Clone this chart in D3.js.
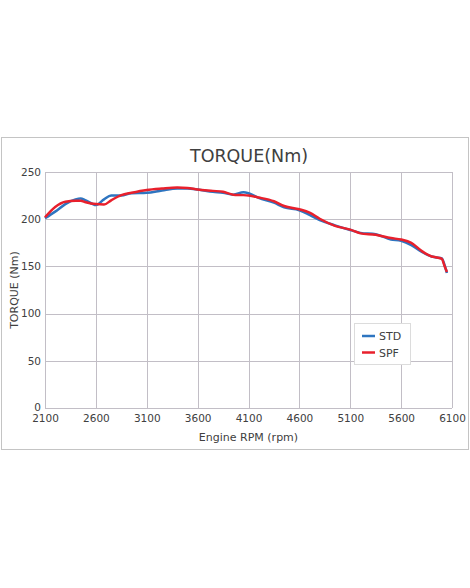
<!DOCTYPE html>
<html>
<head>
<meta charset="utf-8">
<script src="https://cdn.jsdelivr.net/npm/d3@7"></script>
<style>
  body { margin: 0; background: #fff; }
  text { font-family: "DejaVu Sans", Verdana, sans-serif; fill: #404040; }
</style>
</head>
<body>
<div id="chart"></div>
<script>
// engine speed samples (rpm)
var rpm = [2100, 2200, 2300, 2400, 2450, 2500, 2600, 2680, 2750, 2850, 2950, 3100, 3250, 3400, 3500,
  3600, 3750, 3850, 3950, 4050, 4100, 4200, 4350, 4450, 4600, 4700, 4800, 4950, 5100, 5200,
  5350, 5500, 5600, 5700, 5800, 5900, 5950, 6000, 6025, 6050];

// torque (Nm)
var std = [201, 208, 216, 221, 222, 220, 215, 221, 225, 225, 227.5, 228, 230.5, 232.5, 232.5,
  231.5, 229, 228, 226, 228.5, 227.5, 222.5, 217.5, 212.5, 209.5, 204.5, 199, 193.5, 188.5, 185.5,
  184, 178.5, 177, 172.5, 165.5, 160.5, 159.5, 158.5, 152, 143];
var spf = [202, 213, 218.5, 219.5, 219.5, 218, 216, 215.5, 220, 225.5, 228, 231, 232.5, 233.5, 233,
  231.5, 230, 229, 226, 225.5, 225, 223, 219, 214, 210.5, 207, 200.5, 193, 189, 185,
  183.5, 180, 178.5, 175, 166.5, 160.5, 159.5, 158, 151, 144];

var xTicks = [2100, 2600, 3100, 3600, 4100, 4600, 5100, 5600, 6100];
var yTicks = [0, 50, 100, 150, 200, 250];

var seriesNames = ['STD', 'SPF'];
var seriesColors = ['#2e75c0', '#e8202c'];

var svgWidth = 470;
var svgHeight = 588;
var margin = { top: 172, right: 18, bottom: 180, left: 45 };
var chartWidth = svgWidth - margin.left - margin.right;
var chartHeight = svgHeight - margin.top - margin.bottom;

var svg = d3.select('#chart')
  .append('svg')
  .attr('width', svgWidth)
  .attr('height', svgHeight);

// outer frame
svg.append('rect')
  .attr('x', 1.5).attr('y', 137.5)
  .attr('width', 467).attr('height', 312)
  .attr('fill', 'none')
  .attr('stroke', '#c4c4c4');

var chartGroup = svg.append('g')
  .attr('transform', `translate(${margin.left}, ${margin.top})`);

var x = d3.scaleLinear().domain([2100, 6100]).range([0, chartWidth]);
var y = d3.scaleLinear().domain([0, 250]).range([chartHeight, 0]);

// grid
chartGroup.append('g')
  .selectAll('line')
  .data(xTicks)
  .enter()
  .append('line')
  .attr('x1', d => Math.round(x(d)) + 0.5)
  .attr('x2', d => Math.round(x(d)) + 0.5)
  .attr('y1', 0)
  .attr('y2', chartHeight)
  .attr('stroke', '#c2bec6');

chartGroup.append('g')
  .selectAll('line')
  .data(yTicks)
  .enter()
  .append('line')
  .attr('x1', 0)
  .attr('x2', chartWidth)
  .attr('y1', d => Math.round(y(d)) + 0.5)
  .attr('y2', d => Math.round(y(d)) + 0.5)
  .attr('stroke', '#c2bec6');

// axes (labels only)
var bottomAxis = d3.axisBottom(x).tickValues(xTicks).tickSize(0).tickPadding(7).tickFormat(d3.format('d'));
var leftAxis = d3.axisLeft(y).tickValues(yTicks).tickSize(0).tickPadding(4);

var xAxisG = chartGroup.append('g')
  .attr('transform', `translate(0, ${chartHeight})`)
  .call(bottomAxis);
var yAxisG = chartGroup.append('g').call(leftAxis);

[xAxisG, yAxisG].forEach(g => {
  g.select('.domain').remove();
  g.selectAll('text')
    .style('font-family', '"DejaVu Sans", Verdana, sans-serif')
    .style('font-size', '10.5px')
    .attr('fill', '#404040');
});
// lift the zero label a touch so it clears the 2100 label
yAxisG.selectAll('.tick')
  .filter(d => d === 0)
  .select('text')
  .attr('dy', '0.2em');

// lines
var line = d3.line()
  .x(d => x(d[0]))
  .y(d => y(d[1]))
  .curve(d3.curveMonotoneX);

[std, spf].forEach((vals, i) => {
  chartGroup.append('path')
    .datum(rpm.map((r, j) => [r, vals[j]]))
    .attr('fill', 'none')
    .attr('stroke', seriesColors[i])
    .attr('stroke-width', 2.5)
    .attr('stroke-linejoin', 'round')
    .attr('d', line);
});

// title and axis titles
svg.append('text')
  .attr('x', 249).attr('y', 162)
  .attr('text-anchor', 'middle')
  .style('font-size', '17.5px')
  .text('TORQUE(Nm)');

svg.append('text')
  .attr('x', 248.5).attr('y', 441)
  .attr('text-anchor', 'middle')
  .style('font-size', '11px')
  .text('Engine RPM (rpm)');

svg.append('text')
  .attr('transform', 'translate(18, 290) rotate(-90)')
  .attr('text-anchor', 'middle')
  .style('font-size', '11px')
  .text('TORQUE (Nm)');

// legend
var legend = svg.append('g');
legend.append('rect')
  .attr('x', 354.5).attr('y', 323.5)
  .attr('width', 56).attr('height', 41)
  .attr('fill', '#fff')
  .attr('stroke', '#dcdcdc');

seriesNames.forEach((name, i) => {
  var ly = 336 + i * 16.5;
  legend.append('line')
    .attr('x1', 362).attr('x2', 375)
    .attr('y1', ly).attr('y2', ly)
    .attr('stroke', seriesColors[i])
    .attr('stroke-width', 2.5);
  legend.append('text')
    .attr('x', 379).attr('y', ly + 4)
    .style('font-size', '11px')
    .text(name);
});
</script>
</body>
</html>
